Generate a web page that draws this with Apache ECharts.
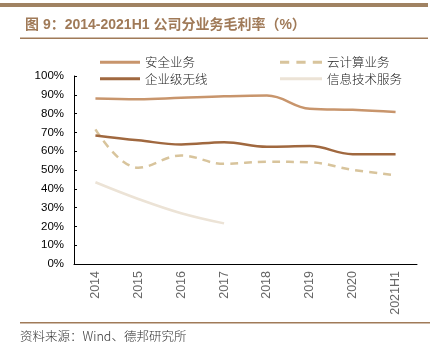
<!DOCTYPE html>
<html><head><meta charset="utf-8">
<script src="https://cdn.jsdelivr.net/npm/echarts@6/dist/echarts.min.js"></script>
<style>html,body{margin:0;padding:0;background:#fff}#c{width:435px;height:347px}</style>
</head><body><div id="c"></div>
<script>
const categories = ['2014','2015','2016','2017','2018','2019','2020','2021H1'];
const security = [88.0, 87.6, 88.4, 89.2, 89.6, 82.6, 82.0, 80.8];
const cloud = [71.6, 51.2, 57.7, 53.3, 54.4, 54.1, 50.1, 47.2];
const wireless = [68.4, 65.8, 63.6, 64.8, 62.4, 62.7, 58.4, 58.4];
const itService = [43.5, 34.6, 27.0, 21.6, null, null, null, null];
const yTicks = [0, 10, 20, 30, 40, 50, 60, 70, 80, 90, 100];

const cjk = '"Noto Sans CJK SC", "Liberation Sans", sans-serif';
const solidIcon = 'path://M0,0H40V3H0Z';
const dashIcon = 'path://M0,0H9V3H0Z M16,0H25V3H16Z M32,0H41V3H32Z';
const legendText = {fontSize: 12.5, color: '#222', fontFamily: cjk, fontWeight: 300};
const chart = echarts.init(document.getElementById('c'));
chart.setOption({
  animation: false,
  backgroundColor: '#fff',
  title: {
    text: '图 9：2014-2021H1 公司分业务毛利率（%）',
    left: 20, top: 13,
    textStyle: {color: '#a07a58', fontSize: 14, fontWeight: 'bold', fontFamily: '"Liberation Sans", "Noto Sans CJK SC", sans-serif'}
  },
  graphic: [
    {type: 'rect', shape: {x: 0, y: 3, width: 428, height: 4}, style: {fill: '#a08262'}},
    {type: 'rect', shape: {x: 20, y: 37.5, width: 408, height: 1.5}, style: {fill: '#a07a58'}},
    {type: 'rect', shape: {x: 20, y: 322, width: 410, height: 1.5}, style: {fill: '#a07a58'}},
    {type: 'text', left: 20, top: 330, style: {text: '资料来源：Wind、德邦研究所', fill: '#333', font: '300 12.5px ' + cjk}}
  ],
  legend: [
    {data: [{name: '安全业务', icon: solidIcon}, {name: '企业级无线', icon: solidIcon}], left: 95, top: 51, orient: 'vertical',
     itemGap: 4, itemWidth: 40, itemHeight: 3, symbolKeepAspect: false, textStyle: legendText},
    {data: [{name: '云计算业务', icon: dashIcon}, {name: '信息技术服务', icon: solidIcon}], left: 275, top: 51, orient: 'vertical',
     itemGap: 4, itemWidth: 42, itemHeight: 3, symbolKeepAspect: false, textStyle: legendText}
  ],
  grid: {left: 74, right: 18, top: 76, bottom: 83},
  xAxis: {
    type: 'category', data: categories, boundaryGap: true,
    axisLine: {lineStyle: {color: '#000', width: 1}},
    axisTick: {inside: true, length: 3, lineStyle: {color: '#000'}},
    axisLabel: {rotate: 90, color: '#666', fontSize: 12.5, fontFamily: '"Liberation Sans", sans-serif', margin: 7}
  },
  yAxis: {
    type: 'value', min: 0, max: 100, interval: 10,
    axisLine: {show: true, lineStyle: {color: '#000', width: 1}},
    axisTick: {show: true, inside: true, length: 3, lineStyle: {color: '#000'}},
    splitLine: {show: false},
    axisLabel: {formatter: v => yTicks.includes(v) ? v + '%' : '', color: '#000', fontSize: 11.5, fontFamily: '"Liberation Sans", sans-serif', margin: 10}
  },
  series: [
    {name: '安全业务', type: 'line', smooth: 0.4, data: security, symbol: 'none', lineStyle: {color: '#c8956c', width: 2.5}, itemStyle: {color: '#c8956c'}},
    {name: '云计算业务', type: 'line', smooth: 0.4, data: cloud, symbol: 'none', lineStyle: {color: '#d8c49c', width: 2.5, type: [8, 6]}, itemStyle: {color: '#d8c49c'}},
    {name: '企业级无线', type: 'line', smooth: 0.4, data: wireless, symbol: 'none', lineStyle: {color: '#a0683f', width: 2.5}, itemStyle: {color: '#a0683f'}},
    {name: '信息技术服务', type: 'line', smooth: 0.4, data: itService, symbol: 'none', lineStyle: {color: '#ece3d6', width: 2.5}, itemStyle: {color: '#ece3d6'}}
  ]
});
</script></body></html>
